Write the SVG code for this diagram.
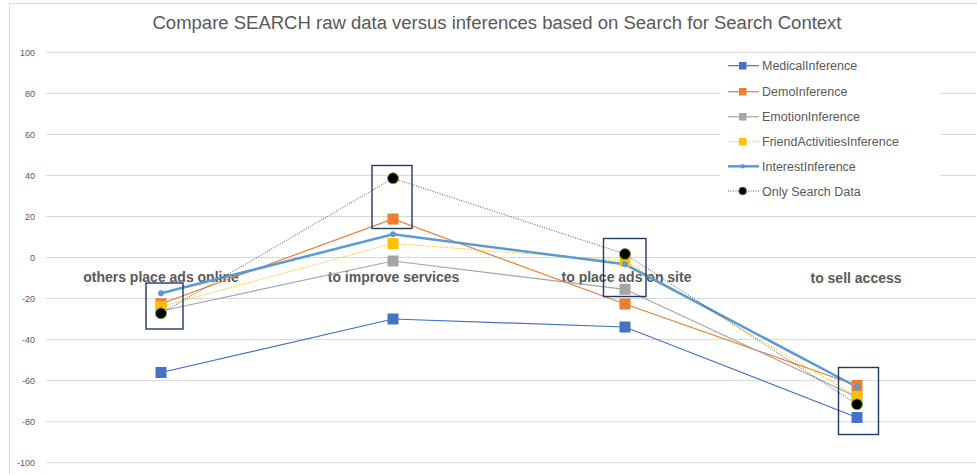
<svg xmlns="http://www.w3.org/2000/svg" width="977" height="474" viewBox="0 0 977 474">
<style>
.grid{stroke:#d9d9d9;stroke-width:1;fill:none}
.ylab{font-family:"Liberation Sans",Arial,sans-serif;font-size:9px;fill:#595959;text-anchor:end}
.cat{font-family:"Liberation Sans",Arial,sans-serif;font-size:14px;font-weight:bold;fill:#595959;text-anchor:middle}
.leg{font-family:"Liberation Sans",Arial,sans-serif;font-size:12.5px;fill:#595959}
.title{font-family:"Liberation Sans",Arial,sans-serif;font-size:18px;fill:#595959;text-anchor:middle}
.box{fill:none;stroke:#1f3864;stroke-width:1.4}
.med{stroke:#4472c4;stroke-width:1.2;fill:none}
.demo{stroke:#ed7d31;stroke-width:1.2;fill:none}
.emo{stroke:#a5a5a5;stroke-width:1.2;fill:none}
.fri{stroke:#ffc000;stroke-width:1;stroke-dasharray:1.5 1.5;fill:none}
.int{stroke:#5b9bd5;stroke-width:2.5;fill:none}
.only{stroke:#404040;stroke-width:0.9;stroke-dasharray:1 1.5;fill:none}
</style>
<defs>
<rect id="sqMed" x="-5.5" y="-5.5" width="11" height="11" fill="#4472c4"/>
<rect id="sqDemo" x="-5.5" y="-5.5" width="11" height="11" fill="#ed7d31"/>
<rect id="sqEmo" x="-5.5" y="-5.5" width="11" height="11" fill="#a5a5a5"/>
<rect id="sqFri" x="-5.5" y="-5.5" width="11" height="11" fill="#ffc000"/>
<circle id="dotInt" r="3" fill="#5b9bd5"/>
<circle id="dotOnly" r="5.5" fill="#000" stroke="#70ad47" stroke-width="1"/>
</defs>
<rect x="0" y="0" width="977" height="474" fill="#fff"/>
<line x1="9.5" y1="3.5" x2="977" y2="3.5" stroke="#d9d9d9" stroke-width="1"/>
<line x1="9.5" y1="3.5" x2="9.5" y2="474" stroke="#d9d9d9" stroke-width="1"/>
<text class="title" x="497" y="29" textLength="689" lengthAdjust="spacingAndGlyphs">Compare SEARCH raw data versus inferences based on Search for Search Context</text>
<g id="gridlines">
<line class="grid" x1="45.5" y1="52.3" x2="976" y2="52.3"/>
<line class="grid" x1="45.5" y1="93.3" x2="976" y2="93.3"/>
<line class="grid" x1="45.5" y1="134.4" x2="976" y2="134.4"/>
<line class="grid" x1="45.5" y1="175.4" x2="976" y2="175.4"/>
<line class="grid" x1="45.5" y1="216.5" x2="976" y2="216.5"/>
<line class="grid" x1="45.5" y1="257.5" x2="976" y2="257.5"/>
<line class="grid" x1="45.5" y1="298.5" x2="976" y2="298.5"/>
<line class="grid" x1="45.5" y1="339.6" x2="976" y2="339.6"/>
<line class="grid" x1="45.5" y1="380.6" x2="976" y2="380.6"/>
<line class="grid" x1="45.5" y1="421.7" x2="976" y2="421.7"/>
<line class="grid" x1="45.5" y1="462.7" x2="976" y2="462.7"/>
</g>
<g id="yaxis">
<text class="ylab" x="35" y="55.5">100</text>
<text class="ylab" x="35" y="96.5">80</text>
<text class="ylab" x="35" y="137.6">60</text>
<text class="ylab" x="35" y="178.6">40</text>
<text class="ylab" x="35" y="219.7">20</text>
<text class="ylab" x="35" y="260.7">0</text>
<text class="ylab" x="35" y="301.7">-20</text>
<text class="ylab" x="35" y="342.8">-40</text>
<text class="ylab" x="35" y="383.8">-60</text>
<text class="ylab" x="35" y="424.9">-80</text>
<text class="ylab" x="35" y="465.9">-100</text>
</g>
<g id="categories">
<text class="cat" x="161" y="282">others place ads online</text>
<text class="cat" x="393.5" y="282">to improve services</text>
<text class="cat" x="626.5" y="282">to place ads on site</text>
<text class="cat" x="856" y="282.5">to sell access</text>
</g>
<g id="connectors">
<polyline class="med" points="161,372.5 393,319 625,327 857,417.5"/>
<polyline class="demo" points="161,303.8 393,219 625,304 857,385.5"/>
<polyline class="emo" points="161,311 393,261 625,289.3 857,397"/>
<polyline class="fri" points="161,306.5 393,243.5 625,261 857,396.5"/>
<polyline class="int" points="161,293.3 393,234.3 625,264.3 857,387"/>
<polyline class="only" points="161,313.3 393,178.3 625,254 857,404.3"/>
</g>
<g id="series-medical">
<use href="#sqMed" x="161" y="372.5"/><use href="#sqMed" x="393" y="319"/><use href="#sqMed" x="625" y="327"/><use href="#sqMed" x="857" y="417.5"/>
</g>
<g id="series-demo">
<use href="#sqDemo" x="161" y="303.8"/><use href="#sqDemo" x="393" y="219"/><use href="#sqDemo" x="625" y="304"/><use href="#sqDemo" x="857" y="385.5"/>
</g>
<g id="series-emotion">
<use href="#sqEmo" x="161" y="311"/><use href="#sqEmo" x="393" y="261"/><use href="#sqEmo" x="625" y="289.3"/><use href="#sqEmo" x="857" y="397"/>
</g>
<g id="series-friend">
<use href="#sqFri" x="161" y="306.5"/><use href="#sqFri" x="393" y="243.5"/><use href="#sqFri" x="625" y="261"/><use href="#sqFri" x="857" y="396.5"/>
</g>
<g id="series-interest">
<use href="#dotInt" x="161" y="293.3"/><use href="#dotInt" x="393" y="234.3"/><use href="#dotInt" x="625" y="264.3"/><use href="#dotInt" x="857" y="387"/>
</g>
<g id="series-only">
<use href="#dotOnly" x="161" y="313.3"/><use href="#dotOnly" x="393" y="178.3"/><use href="#dotOnly" x="625" y="254"/><use href="#dotOnly" x="857" y="404.3"/>
</g>
<g id="highlight-boxes">
<rect class="box" x="146" y="283" width="37" height="46"/>
<rect class="box" x="372" y="165.5" width="40" height="63"/>
<rect class="box" x="603.5" y="238.5" width="42.5" height="58"/>
<rect class="box" x="838.5" y="367.5" width="40" height="67"/>
</g>
<g id="legend">
<rect x="720" y="54" width="220" height="151" fill="#fff"/>
<line class="med" x1="728" y1="65.7" x2="759" y2="65.7"/><rect x="739" y="62" width="7.5" height="7.5" fill="#4472c4"/>
<text class="leg" x="762" y="70.2">MedicalInference</text>
<line class="demo" x1="728" y1="91.7" x2="759" y2="91.7"/><rect x="739" y="88" width="7.5" height="7.5" fill="#ed7d31"/>
<text class="leg" x="762" y="96.2">DemoInference</text>
<line class="emo" x1="728" y1="116.7" x2="759" y2="116.7"/><rect x="739" y="113" width="7.5" height="7.5" fill="#a5a5a5"/>
<text class="leg" x="762" y="121.2">EmotionInference</text>
<line class="fri" x1="728" y1="141.7" x2="759" y2="141.7"/><rect x="739" y="138" width="7.5" height="7.5" fill="#ffc000"/>
<text class="leg" x="762" y="146.2">FriendActivitiesInference</text>
<line class="int" x1="728" y1="166.3" x2="759" y2="166.3"/><circle cx="742.7" cy="166.3" r="2.3" fill="#5b9bd5"/>
<text class="leg" x="762" y="170.8">InterestInference</text>
<line class="only" x1="728" y1="191" x2="759" y2="191"/><circle cx="742.7" cy="191" r="4" fill="#000" stroke="#70ad47" stroke-width="0.8"/>
<text class="leg" x="762" y="195.5">Only Search Data</text>
</g>
</svg>
